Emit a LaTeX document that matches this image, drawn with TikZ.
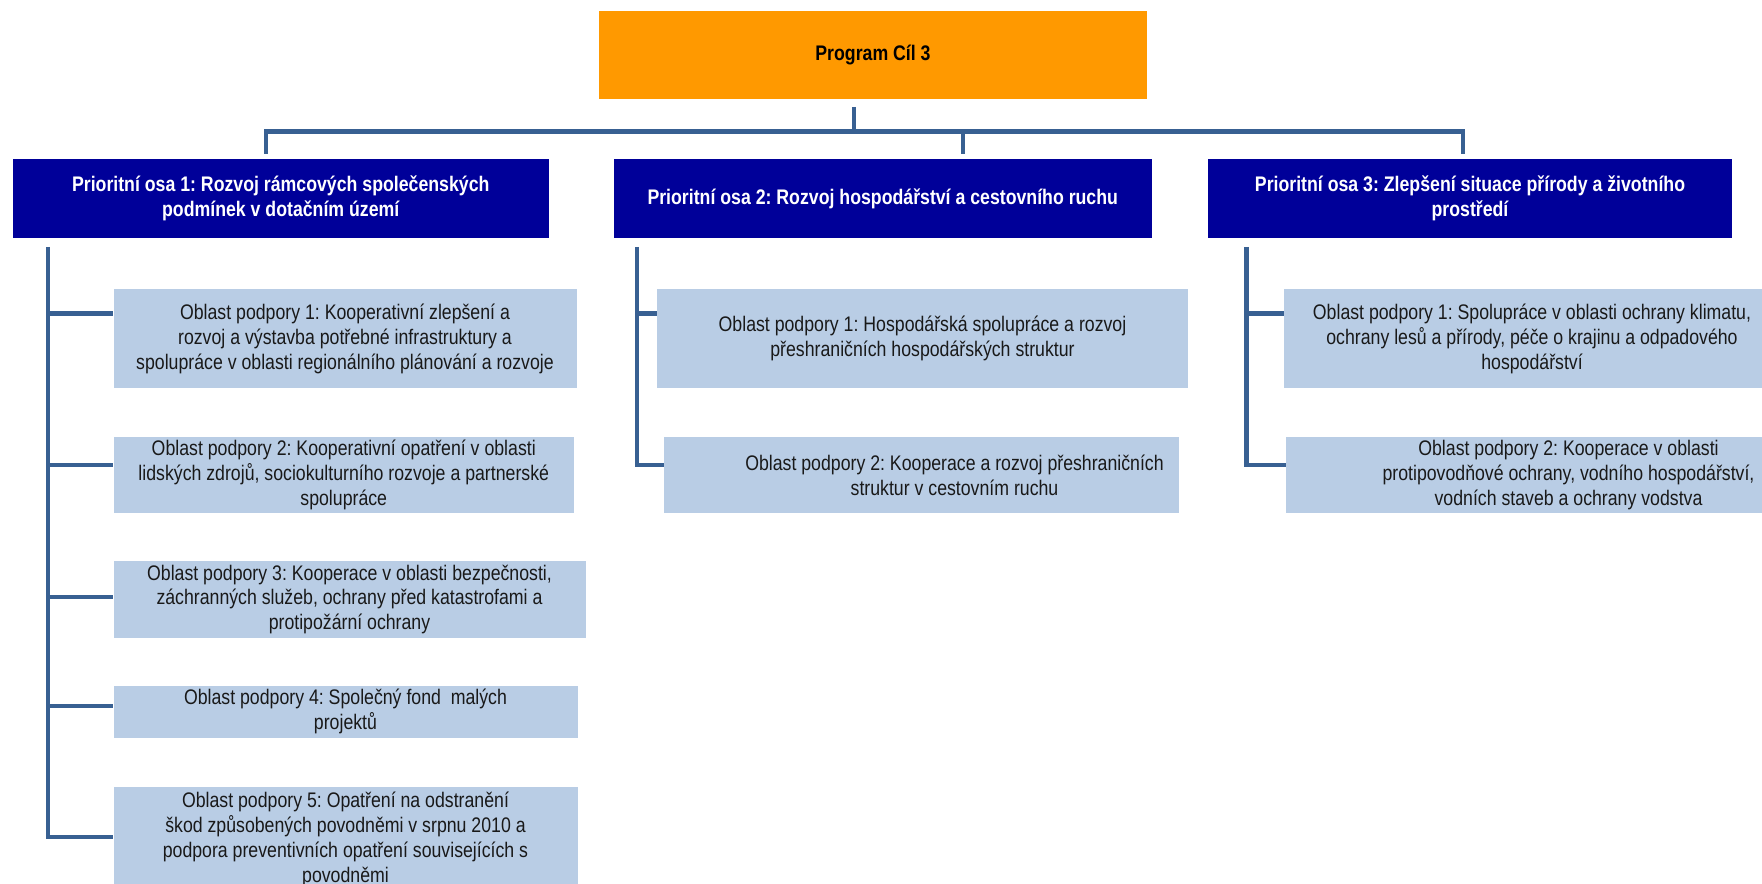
\documentclass[tikz,border=0pt]{standalone}
\usepackage{fontspec}
\setmainfont{Liberation Sans}[FakeStretch=0.84]
\usetikzlibrary{positioning}
\frenchspacing

\definecolor{progOrange}{RGB}{255,153,0}
\definecolor{osaBlue}{RGB}{0,0,153}
\definecolor{oblBlue}{RGB}{185,205,229}
\definecolor{linkBlue}{RGB}{56,96,146}
\definecolor{oblText}{RGB}{25,25,25}

\tikzset{
    progbox/.style={fill=progOrange, minimum width=10.96cm, minimum height=1.76cm, font=\fontsize{12}{14.2}\selectfont\bfseries},
    osabox/.style={fill=osaBlue, text=white, align=center, minimum height=1.58cm, font=\fontsize{12}{14.2}\selectfont\bfseries},
    oblbox/.style={fill=oblBlue, text=oblText, align=center, inner ysep=2pt, font=\fontsize{12}{14.2}\selectfont},
    oblnote/.style={text=oblText, align=center, font=\fontsize{12}{14.2}\selectfont},
    link/.style={draw=linkBlue, line width=2.3pt},
}

\begin{document}
\begin{tikzpicture}
    \useasboundingbox (0,0) rectangle (35.24,-17.68);

    % Program - top box
    \node[progbox] (prog) at (17.46,-1.10) {Program Cíl 3};

    % Priority axes
    \node[osabox, minimum width=10.73cm] (osa1) at (5.615,-3.97) {Prioritní osa 1: Rozvoj rámcových společenských\\podmínek v dotačním území};
    \node[osabox, minimum width=10.77cm] (osa2) at (17.655,-3.97) {Prioritní osa 2: Rozvoj hospodářství a cestovního ruchu};
    \node[osabox, minimum width=10.48cm] (osa3) at (29.40,-3.97) {Prioritní osa 3: Zlepšení situace přírody a životního\\prostředí};

    % Bus between program and axes
    \coordinate (stem) at (17.08,-2.14);
    \coordinate (hub) at (17.08,-2.63);
    \coordinate (j1) at (5.32,-2.63);
    \coordinate (j2) at (19.26,-2.63);
    \coordinate (j3) at (29.26,-2.63);
    \coordinate (e1) at (5.32,-3.08);
    \coordinate (e2) at (19.26,-3.08);
    \coordinate (e3) at (29.26,-3.08);
    \draw[link] (stem) -- (hub);
    \draw[link] (e1) -- (j1) -- (j3) -- (e3);
    \draw[link] (j2) -- (e2);

    % Support areas of axis 1
    \node[oblbox, minimum width=9.26cm, minimum height=1.98cm] (ob11) at (6.90,-6.77) {Oblast podpory 1: Kooperativní zlepšení a\\rozvoj a výstavba potřebné infrastruktury a\\spolupráce v oblasti regionálního plánování a rozvoje};
    \node[oblbox, minimum width=9.21cm, minimum height=1.53cm] (ob12) at (6.875,-9.50) {Oblast podpory 2: Kooperativní opatření v oblasti\\lidských zdrojů, sociokulturního rozvoje a partnerské\\spolupráce};
    \node[oblbox, minimum width=9.44cm, minimum height=1.50cm] (ob13) at (6.99,-11.99) {Oblast podpory 3: Kooperace v oblasti bezpečnosti,\\záchranných služeb, ochrany před katastrofami a\\protipožární ochrany};
    \node[oblbox, minimum width=9.28cm, minimum height=1.01cm] (ob14) at (6.91,-14.235) {Oblast podpory 4: Společný fond\ \ malých\\projektů};
    \node[oblbox, minimum width=9.28cm, minimum height=2.1cm, anchor=north] (ob15) at (6.91,-15.73) {Oblast podpory 5: Opatření na odstranění\\škod způsobených povodněmi v srpnu 2010 a\\podpora preventivních opatření souvisejících s\\povodněmi};

    % Support areas of axis 2
    \node[oblbox, minimum width=10.62cm, minimum height=1.98cm] (ob21) at (18.45,-6.77) {Oblast podpory 1: Hospodářská spolupráce a rozvoj\\přeshraničních hospodářských struktur};
    \node[oblbox, minimum width=10.30cm, minimum height=1.53cm] (ob22) at (18.43,-9.50) {};
    \node[oblnote] (ob22text) at ([xshift=0.66cm]ob22.center) {Oblast podpory 2: Kooperace a rozvoj přeshraničních\\struktur v cestovním ruchu};

    % Support areas of axis 3 (running off the right edge)
    \node[oblbox, minimum width=9.92cm, minimum height=1.98cm] (ob31) at (30.64,-6.77) {Oblast podpory 1: Spolupráce v oblasti ochrany klimatu,\\ochrany lesů a přírody, péče o krajinu a odpadového\\hospodářství};
    \node[oblbox, minimum width=11.30cm, minimum height=1.53cm] (ob32) at (31.37,-9.50) {Oblast podpory 2: Kooperace v oblasti\\protipovodňové ochrany, vodního hospodářství,\\vodních staveb a ochrany vodstva};

    % Rails with branches
    \coordinate (r1top) at (0.96,-4.94);
    \foreach \n/\y in {1/-6.27, 2/-9.30, 3/-11.94, 4/-14.12, 5/-16.74}
        \coordinate (r1\n) at (0.96,\y);
    \draw[link] (r1top) |- (r15 -| ob15.west);
    \foreach \n in {1,...,4}
        \draw[link] (r1\n) -- (r1\n -| ob1\n.west);

    \coordinate (r2top) at (12.74,-4.94);
    \coordinate (r21) at (12.74,-6.27);
    \coordinate (r22) at (12.74,-9.30);
    \draw[link] (r2top) |- (r22 -| ob22.west);
    \draw[link] (r21) -- (r21 -| ob21.west);

    \coordinate (r3top) at (24.93,-4.94);
    \coordinate (r31) at (24.93,-6.27);
    \coordinate (r32) at (24.93,-9.30);
    \draw[link] (r3top) |- (r32 -| ob32.west);
    \draw[link] (r31) -- (r31 -| ob31.west);
\end{tikzpicture}
\end{document}
